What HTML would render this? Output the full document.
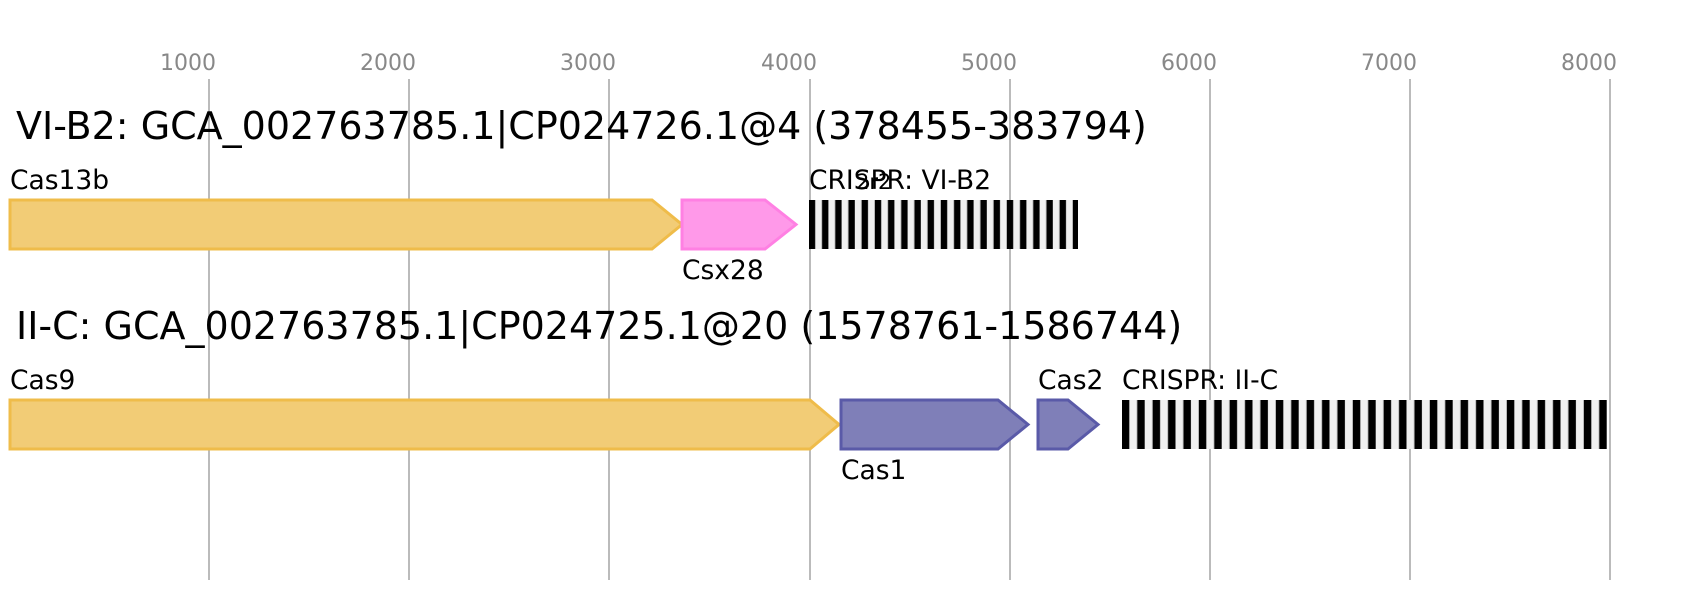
<!DOCTYPE html>
<html><head><style>body{margin:0;background:#fff}svg{display:block}text{font-family:"DejaVu Sans","Liberation Sans",sans-serif}</style></head>
<body>
<svg width="1697" height="600" viewBox="0 0 1697 600" xmlns="http://www.w3.org/2000/svg">
<defs>
<pattern id="cr" x="809" y="0" width="13.2" height="10" patternUnits="userSpaceOnUse">
<rect width="13.2" height="10" fill="#f0f0f0"/><rect width="6.2" height="10" fill="#000"/><rect x="12.4" width="0.8" height="10" fill="#aaa"/></pattern>
<pattern id="cr2" x="1122" y="0" width="15.4" height="10" patternUnits="userSpaceOnUse">
<rect width="15.4" height="10" fill="#f0f0f0"/><rect width="7.3" height="10" fill="#000"/><rect x="14.6" width="0.8" height="10" fill="#aaa"/></pattern>
</defs>
<g stroke="#bbb" stroke-width="2">
<line x1="209" y1="79" x2="209" y2="580"/><line x1="409" y1="79" x2="409" y2="580"/><line x1="609" y1="79" x2="609" y2="580"/><line x1="810" y1="79" x2="810" y2="580"/><line x1="1010" y1="79" x2="1010" y2="580"/><line x1="1210" y1="79" x2="1210" y2="580"/><line x1="1410" y1="79" x2="1410" y2="580"/><line x1="1610" y1="79" x2="1610" y2="580"/>
</g>
<g fill="#888" font-size="22" text-anchor="middle">
<text x="188" y="70">1000</text><text x="388" y="70">2000</text><text x="588" y="70">3000</text><text x="789" y="70">4000</text><text x="989" y="70">5000</text><text x="1189" y="70">6000</text><text x="1389" y="70">7000</text><text x="1589" y="70">8000</text>
</g>
<text x="16" y="139" font-size="38" fill="#000">VI-B2: GCA_002763785.1|CP024726.1@4 (378455-383794)</text>
<polygon points="10,200 652,200 682,224.5 652,249 10,249" fill="#f2cc76" stroke="#efbc4a" stroke-width="3"/>
<polygon points="682,200 765,200 796,224.5 765,249 682,249" fill="#ff99e9" stroke="#ff80e3" stroke-width="3"/>
<rect x="809" y="200" width="269" height="49" fill="url(#cr)"/>
<g font-size="26.5" fill="#000">
<text x="10" y="189">Cas13b</text>
<text x="682" y="279">Csx28</text>
<text x="809" y="189">CRISPR: VI-B2</text>
<text x="856" y="189" font-size="21">2r2</text>
</g>
<text x="16" y="339" font-size="38" fill="#000">II-C: GCA_002763785.1|CP024725.1@20 (1578761-1586744)</text>
<polygon points="10,400 810,400 839,424.5 810,449 10,449" fill="#f2cc76" stroke="#efbc4a" stroke-width="3"/>
<polygon points="841,400 998,400 1028,424.5 998,449 841,449" fill="#7f7fb8" stroke="#5a5aa8" stroke-width="3"/>
<polygon points="1038,400 1068,400 1098,424.5 1068,449 1038,449" fill="#7f7fb8" stroke="#5a5aa8" stroke-width="3"/>
<rect x="1122" y="400" width="485" height="49" fill="url(#cr2)"/>
<g font-size="26.5" fill="#000">
<text x="10" y="389">Cas9</text>
<text x="841" y="479">Cas1</text>
<text x="1038" y="389">Cas2</text>
<text x="1122" y="389">CRISPR: II-C</text>
</g>
</svg>
</body></html>
